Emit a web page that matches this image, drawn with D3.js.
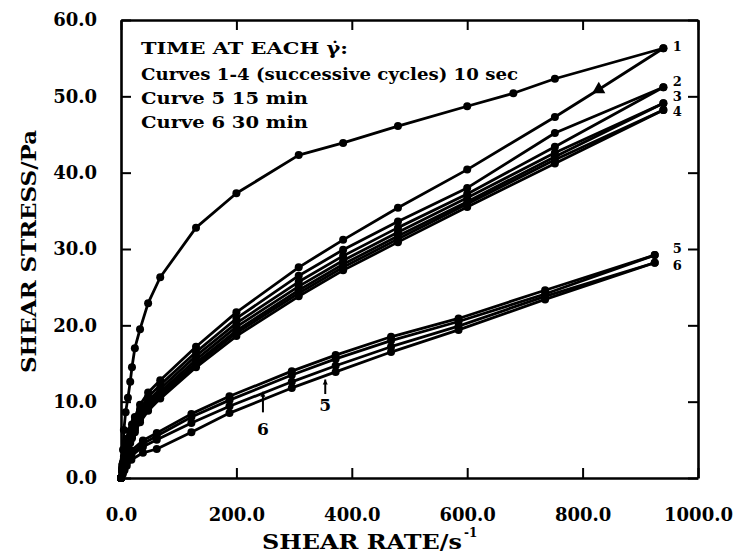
<!DOCTYPE html>
<html>
<head>
<meta charset="utf-8">
<script src="https://cdn.jsdelivr.net/npm/d3@7"></script>
<style>
  body { margin: 0; background: #fff; }
  text { font-family: "DejaVu Serif", "Liberation Serif", serif; font-weight: bold; fill: #000; }
</style>
</head>
<body>
<div id="chart"></div>
<script>
// Shear rates (s^-1) for curves 1-4, and for curves 5-6
const rates = [0, 2, 3.5, 5, 8, 12, 16, 19, 24, 33, 47, 68, 130, 200, 308, 385, 480, 600, 680, 752, 828, 940];
const rates56 = [0, 3, 6, 10, 18, 38, 62, 122, 188, 296, 372, 468, 585, 735, 925];

// Shear stress (Pa), null where a curve has no reading
const c1up   = [0, 1.7, 3.7, 6.3, 8.6, 10.5, 12.6, 14.5, 17.0, 19.5, 22.9, 26.3, 32.8, 37.3, 42.3, 43.9, 46.1, 48.7, 50.4, 52.3, null, 56.3];
const c1down = [0, 1.3, 2.1, 2.8, 4.0, 5.2, 6.2, 7.0, 8.0, 9.6, 11.2, 12.8, 17.2, 21.7, 27.6, 31.2, 35.4, 40.4, null, 47.3, 50.9, 56.3];
const c2up   = [0, 1.2, 1.9, 2.6, 3.7, 4.8, 5.8, 6.5, 7.5, 9.0, 10.6, 12.2, 16.5, 20.9, 26.5, 29.9, 33.6, 38.0, null, 45.2, null, 51.2];
const c2down = [0, 1.1, 1.8, 2.4, 3.5, 4.5, 5.5, 6.2, 7.1, 8.6, 10.1, 11.7, 16.0, 20.3, 25.7, 29.1, 32.8, 37.2, null, 43.4, null, 51.2];
const c3up   = [0, 1.0, 1.7, 2.3, 3.3, 4.3, 5.2, 5.9, 6.8, 8.2, 9.7, 11.3, 15.5, 19.8, 25.1, 28.5, 32.2, 36.7, null, 42.6, null, 49.1];
const c3down = [0, 0.9, 1.6, 2.2, 3.1, 4.1, 5.0, 5.6, 6.5, 7.9, 9.4, 11.0, 15.1, 19.3, 24.6, 28.0, 31.7, 36.2, null, 42.1, null, 49.1];
const c4up   = [0, 0.9, 1.5, 2.1, 3.0, 3.9, 4.8, 5.4, 6.3, 7.6, 9.1, 10.7, 14.8, 19.0, 24.2, 27.6, 31.3, 35.9, null, 41.7, null, 48.2];
const c4down = [0, 0.8, 1.4, 2.0, 2.8, 3.7, 4.6, 5.2, 6.0, 7.3, 8.8, 10.4, 14.5, 18.6, 23.8, 27.2, 30.9, 35.5, null, 41.2, null, 48.2];
const c5up   = [0, 1.0, 1.8, 2.6, 3.6, 4.9, 5.9, 8.4, 10.7, 14.0, 16.1, 18.5, 20.9, 24.6, 29.2];
const c5down = [0, 0.8, 1.5, 2.2, 3.2, 4.5, 5.5, 8.0, 10.2, 13.5, 15.6, 18.0, 20.5, 24.1, 29.2];
const c6up   = [0, 0.7, 1.3, 2.0, 2.9, 4.1, 5.0, 7.2, 9.4, 12.6, 14.7, 17.2, 19.9, 23.8, 28.2];
const c6down = [0, 0.5, 1.0, 1.6, 2.4, 3.3, 3.8, 6.0, 8.5, 11.8, 13.9, 16.5, 19.4, 23.4, 28.2];

const xTicks = [0, 200, 400, 600, 800, 1000];
const yTicks = [0, 10, 20, 30, 40, 50, 60];

// curve number labels at the right end
const endLabels = [
    {t: "1", v: 56.5}, {t: "2", v: 52.0}, {t: "3", v: 50.0}, {t: "4", v: 48.0},
    {t: "5", v: 30.1}, {t: "6", v: 27.9}
];
// arrows pointing at curves 5 and 6
const arrowLabels = [
    {t: "6", r: 246, top: 11.3, bottom: 8.6, text: 6.4},
    {t: "5", r: 354, top: 12.9, bottom: 11.0, text: 9.5}
];

const legendLines = [
    {t: "TIME AT EACH \u03B3\u0307:", w: 207},
    {t: "Curves 1-4 (successive cycles) 10 sec", w: 377},
    {t: "Curve  5 15 min", w: 167},
    {t: "Curve  6 30 min", w: 167}
];

const width = 741, height = 557;

const svg = d3.select("#chart")
    .append("svg")
    .attr("width", width)
    .attr("height", height);

const x = d3.scaleLinear().domain([0, 1000]).range([121, 698]);
const y = d3.scaleLinear().domain([0, 60]).range([478, 20]);

// Axes, ticks pointing inward on all four sides
const axisStyle = g => {
    g.select(".domain").attr("stroke", "#000").attr("stroke-width", 2.6);
    g.selectAll(".tick line").attr("stroke", "#000").attr("stroke-width", 2);
    g.selectAll(".tick text").attr("font-size", 18).attr("font-family", "DejaVu Serif").attr("font-weight", "bold");
};

svg.append("g")
    .attr("transform", `translate(0,${y(0)})`)
    .call(d3.axisBottom(x).tickValues(xTicks).tickSize(-10).tickSizeOuter(0)
        .tickPadding(30).tickFormat(d3.format(".1f")))
    .call(axisStyle);

svg.append("g")
    .attr("transform", `translate(${x(0)},0)`)
    .call(d3.axisLeft(y).tickValues(yTicks).tickSize(-10).tickSizeOuter(0)
        .tickPadding(24).tickFormat(d3.format(".1f")))
    .call(axisStyle);

svg.append("g")
    .attr("transform", `translate(0,${y(60)})`)
    .call(d3.axisTop(x).tickValues(xTicks).tickSize(-10).tickSizeOuter(0).tickFormat(""))
    .call(axisStyle);

svg.append("g")
    .attr("transform", `translate(${x(1000)},0)`)
    .call(d3.axisRight(y).tickValues(yTicks).tickSize(-10).tickSizeOuter(0).tickFormat(""))
    .call(axisStyle);

// Axis titles
svg.append("text")
    .attr("x", 262)
    .attr("y", 549)
    .attr("font-size", 21)
    .attr("textLength", 200)
    .attr("lengthAdjust", "spacingAndGlyphs")
    .text("SHEAR RATE/s");
svg.append("text")
    .attr("x", 464)
    .attr("y", 537)
    .attr("font-size", 12)
    .text("-1");

svg.append("text")
    .attr("transform", "translate(36,373) rotate(-90)")
    .attr("font-size", 21)
    .attr("textLength", 243)
    .attr("lengthAdjust", "spacingAndGlyphs")
    .text("SHEAR STRESS/Pa");

// Legend text block
svg.selectAll(".legend")
    .data(legendLines)
    .join("text")
    .attr("class", "legend")
    .attr("x", 141)
    .attr("y", (d, i) => [54, 80, 104, 128][i])
    .attr("font-size", 17)
    .attr("textLength", d => d.w)
    .attr("lengthAdjust", "spacingAndGlyphs")
    .text(d => d.t);

// Build series
const toPts = (rs, vs) => rs.map((r, i) => ({r: r, v: vs[i]})).filter(d => d.v !== null);
const series = [
    {name: "1up", pts: toPts(rates, c1up)},
    {name: "1down", pts: toPts(rates, c1down)},
    {name: "2up", pts: toPts(rates, c2up)},
    {name: "2down", pts: toPts(rates, c2down)},
    {name: "3up", pts: toPts(rates, c3up)},
    {name: "3down", pts: toPts(rates, c3down)},
    {name: "4up", pts: toPts(rates, c4up)},
    {name: "4down", pts: toPts(rates, c4down)},
    {name: "5up", pts: toPts(rates56, c5up)},
    {name: "5down", pts: toPts(rates56, c5down)},
    {name: "6up", pts: toPts(rates56, c6up)},
    {name: "6down", pts: toPts(rates56, c6down)}
];

const line = d3.line()
    .x(d => x(d.r))
    .y(d => y(d.v));

const plot = svg.append("g");

plot.selectAll(".curve")
    .data(series)
    .join("path")
    .attr("class", "curve")
    .attr("fill", "none")
    .attr("stroke", "#000")
    .attr("stroke-width", 2.8)
    .attr("stroke-linejoin", "round")
    .attr("d", d => line(d.pts));

series.forEach(s => {
    const isTri = d => s.name === "1down" && d.r === 828;
    plot.selectAll(null)
        .data(s.pts.filter(d => !isTri(d)))
        .join("circle")
        .attr("cx", d => x(d.r))
        .attr("cy", d => y(d.v))
        .attr("r", 4)
        .attr("fill", "#000");
    plot.selectAll(null)
        .data(s.pts.filter(isTri))
        .join("path")
        .attr("transform", d => `translate(${x(d.r)},${y(d.v)})`)
        .attr("d", d3.symbol().type(d3.symbolTriangle).size(75))
        .attr("fill", "#000");
});

// Curve number labels
svg.selectAll(".endLabel")
    .data(endLabels)
    .join("text")
    .attr("class", "endLabel")
    .attr("x", x(940) + 14)
    .attr("y", d => y(d.v))
    .attr("dy", "0.35em")
    .attr("text-anchor", "middle")
    .attr("font-size", 13)
    .text(d => d.t);

// Arrows for curves 5 and 6
const arrows = svg.selectAll(".arrow")
    .data(arrowLabels)
    .join("g")
    .attr("class", "arrow");
arrows.append("line")
    .attr("x1", d => x(d.r))
    .attr("x2", d => x(d.r))
    .attr("y1", d => y(d.top))
    .attr("y2", d => y(d.bottom))
    .attr("stroke", "#000")
    .attr("stroke-width", 2);
arrows.append("path")
    .attr("d", d => `M${x(d.r) - 2.5},${y(d.top) + 5}L${x(d.r)},${y(d.top)}L${x(d.r) + 2.5},${y(d.top) + 5}Z`)
    .attr("fill", "#000");
arrows.append("text")
    .attr("x", d => x(d.r))
    .attr("y", d => y(d.text))
    .attr("dy", "0.35em")
    .attr("text-anchor", "middle")
    .attr("font-size", 17)
    .text(d => d.t);
</script>
</body>
</html>
